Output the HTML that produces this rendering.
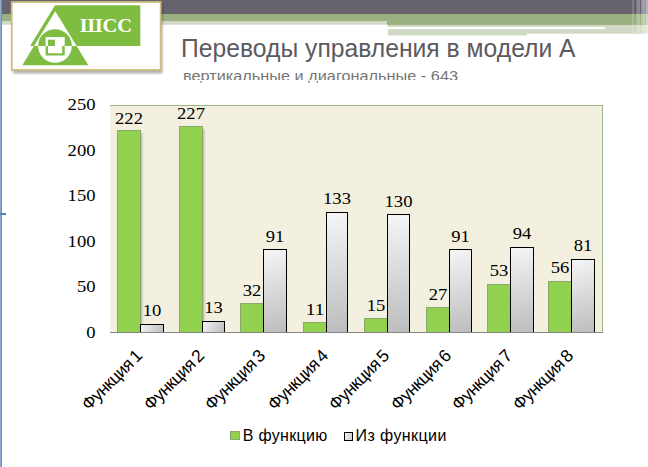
<!DOCTYPE html>
<html><head><meta charset="utf-8"><style>
html,body{margin:0;padding:0;background:#fff;width:648px;height:467px;overflow:hidden}
svg{display:block}
text{font-family:"Liberation Sans",sans-serif}
.sf{font-family:"Liberation Serif",serif}
</style></head><body>
<svg width="648" height="467" viewBox="0 0 648 467">
<defs>
<linearGradient id="wg" x1="0" y1="0" x2="0.35" y2="1">
<stop offset="0" stop-color="#f6f6f6"/><stop offset="1" stop-color="#c4c4c4"/>
</linearGradient>
<linearGradient id="wgs" x1="0" y1="0" x2="1" y2="0.3">
<stop offset="0" stop-color="#f4f4f4"/><stop offset="1" stop-color="#cfcfcf"/>
</linearGradient>
<filter id="sh" x="-20%" y="-5%" width="150%" height="115%"><feGaussianBlur stdDeviation="1.2"/></filter>
<linearGradient id="lb" x1="0" y1="0" x2="1" y2="0">
<stop offset="0" stop-color="#9fb7da"/><stop offset="1" stop-color="#5b7fb5"/>
</linearGradient>
</defs>

<rect x="0" y="0" width="2" height="467" fill="url(#lb)"/>
<rect x="0" y="213" width="6" height="2" fill="#5b7fb5"/>
<rect x="2" y="0" width="646" height="14" fill="#67636d"/>
<rect x="2" y="14" width="385" height="7" fill="#9bb081"/>
<rect x="2" y="21" width="385" height="3.7" fill="#cfd9c3"/>
<rect x="387" y="14" width="261" height="11" fill="#9bb081"/>
<rect x="388" y="25" width="139" height="10.4" fill="#cfd9c3"/>
<rect x="527" y="25" width="121" height="8.7" fill="#cfd9c3"/>
<rect x="388" y="27" width="217" height="2.1" fill="#ffffff"/>
<rect x="632.5" y="0" width="1" height="33" fill="#fff" opacity="0.35"/>
<rect x="636.5" y="0" width="3.5" height="33" fill="#fff" opacity="0.25"/>
<rect x="641" y="0" width="7" height="36" fill="#fff" opacity="0.3"/>
<rect x="643.5" y="0" width="1" height="36" fill="#fff" opacity="0.3"/>
<rect x="646" y="0" width="2" height="36" fill="#fff" opacity="0.3"/>
<rect x="13" y="4" width="149.5" height="69.5" fill="#000" opacity="0.3" filter="url(#sh)"/>
<rect x="11.7" y="2" width="149" height="68" fill="#fff" stroke="#cbbb7e" stroke-width="1.8"/>
<path fill="#7ebd42" d="M55 5.2 L140.3 5.2 L140.3 46 L76.6 46 L88.3 65.2 L22.3 65.2 L34.0 46 L30.1 46 Z"/>
<path fill="#fff" d="M55.3 11.3 L76.6 46 L34.0 46 Z"/>
<path fill="#7ebd42" d="M38.2 46 A16.8 16.8 0 0 1 71.8 46 Z"/>
<path fill="#fff" d="M38.2 46 A16.8 16.8 0 0 0 71.8 46 Z"/>
<rect x="45.6" y="37.1" width="19.1" height="8.9" fill="#fff"/>
<rect x="48" y="39.7" width="6.9" height="6.3" fill="#7ebd42"/>
<path fill="#7ebd42" fill-rule="evenodd" d="M45.6 46 L64.7 46 L64.7 55.6 L45.6 55.6 Z M48 46 L62.2 46 L62.2 53.2 L48 53.2 Z"/>
<text x="80" y="31.9" class="sf" font-size="19.5" font-weight="bold" fill="#fff" textLength="52" lengthAdjust="spacingAndGlyphs">ШСС</text>
<text x="181.1" y="56.8" font-size="25" fill="#5b5a5f" textLength="394.5" lengthAdjust="spacingAndGlyphs">Переводы управления в модели А</text>
<clipPath id="sc"><rect x="0" y="60" width="648" height="20.1"/></clipPath>
<text x="183" y="81.4" font-size="14" fill="#767676" clip-path="url(#sc)" textLength="275" lengthAdjust="spacingAndGlyphs">вертикальные и диагональные - 643</text>
<path d="M200.4 80.9h1.5v1.9h-1.5z M308.2 80.8h1.5v1.9h-1.5z M316.6 80.8h1.4v1.9h-1.4z" fill="#8a8a8a"/>
<rect x="110" y="105" width="493" height="228" fill="#f3f0df"/>
<rect x="110" y="105" width="493" height="1" fill="#9bb281"/>
<rect x="602" y="105" width="1" height="228" fill="#9bb281"/>
<rect x="119" y="133" width="23" height="199" fill="#5a5040" opacity="0.45" filter="url(#sh)"/>
<rect x="117.5" y="130.5" width="23" height="202" fill="#92d050" stroke="#8aa86a" stroke-width="1"/>
<rect x="140.5" y="324.5" width="23" height="8" fill="url(#wg0)" stroke="#000" stroke-width="1"/>
<text class="sf" x="129.00" y="123.70" font-size="16" text-anchor="middle" fill="#000" textLength="27.90" lengthAdjust="spacingAndGlyphs">222</text>
<text class="sf" x="152.00" y="315.90" font-size="16" text-anchor="middle" fill="#000" textLength="18.60" lengthAdjust="spacingAndGlyphs">10</text>
<rect x="181" y="129" width="23" height="203" fill="#5a5040" opacity="0.45" filter="url(#sh)"/>
<rect x="179.5" y="126.5" width="23" height="206" fill="#92d050" stroke="#8aa86a" stroke-width="1"/>
<rect x="202.5" y="321.5" width="22" height="11" fill="url(#wg1)" stroke="#000" stroke-width="1"/>
<text class="sf" x="191.00" y="118.70" font-size="16" text-anchor="middle" fill="#000" textLength="27.90" lengthAdjust="spacingAndGlyphs">227</text>
<text class="sf" x="213.50" y="312.70" font-size="16" text-anchor="middle" fill="#000" textLength="18.60" lengthAdjust="spacingAndGlyphs">13</text>
<rect x="242" y="306" width="23" height="26" fill="#5a5040" opacity="0.45" filter="url(#sh)"/>
<rect x="240.5" y="303.5" width="23" height="29" fill="#92d050" stroke="#8aa86a" stroke-width="1"/>
<rect x="263.5" y="249.5" width="23" height="83" fill="url(#wg2)" stroke="#000" stroke-width="1"/>
<text class="sf" x="252.00" y="296.10" font-size="16" text-anchor="middle" fill="#000" textLength="18.60" lengthAdjust="spacingAndGlyphs">32</text>
<text class="sf" x="275.00" y="242.00" font-size="16" text-anchor="middle" fill="#000" textLength="18.60" lengthAdjust="spacingAndGlyphs">91</text>
<rect x="305" y="325" width="23" height="7" fill="#5a5040" opacity="0.45" filter="url(#sh)"/>
<rect x="303.5" y="322.5" width="23" height="10" fill="#92d050" stroke="#8aa86a" stroke-width="1"/>
<rect x="326.5" y="212.5" width="21" height="120" fill="url(#wg3)" stroke="#000" stroke-width="1"/>
<text class="sf" x="315.00" y="315.10" font-size="16" text-anchor="middle" fill="#000" textLength="18.60" lengthAdjust="spacingAndGlyphs">11</text>
<text class="sf" x="337.00" y="203.90" font-size="16" text-anchor="middle" fill="#000" textLength="27.90" lengthAdjust="spacingAndGlyphs">133</text>
<rect x="366" y="321" width="23" height="11" fill="#5a5040" opacity="0.45" filter="url(#sh)"/>
<rect x="364.5" y="318.5" width="23" height="14" fill="#92d050" stroke="#8aa86a" stroke-width="1"/>
<rect x="387.5" y="214.5" width="22" height="118" fill="url(#wg4)" stroke="#000" stroke-width="1"/>
<text class="sf" x="376.00" y="310.60" font-size="16" text-anchor="middle" fill="#000" textLength="18.60" lengthAdjust="spacingAndGlyphs">15</text>
<text class="sf" x="398.50" y="206.80" font-size="16" text-anchor="middle" fill="#000" textLength="27.90" lengthAdjust="spacingAndGlyphs">130</text>
<rect x="428" y="310" width="23" height="22" fill="#5a5040" opacity="0.45" filter="url(#sh)"/>
<rect x="426.5" y="307.5" width="23" height="25" fill="#92d050" stroke="#8aa86a" stroke-width="1"/>
<rect x="449.5" y="249.5" width="22" height="83" fill="url(#wg5)" stroke="#000" stroke-width="1"/>
<text class="sf" x="438.00" y="299.70" font-size="16" text-anchor="middle" fill="#000" textLength="18.60" lengthAdjust="spacingAndGlyphs">27</text>
<text class="sf" x="460.50" y="242.00" font-size="16" text-anchor="middle" fill="#000" textLength="18.60" lengthAdjust="spacingAndGlyphs">91</text>
<rect x="489" y="287" width="23" height="45" fill="#5a5040" opacity="0.45" filter="url(#sh)"/>
<rect x="487.5" y="284.5" width="23" height="48" fill="#92d050" stroke="#8aa86a" stroke-width="1"/>
<rect x="510.5" y="247.5" width="23" height="85" fill="url(#wg6)" stroke="#000" stroke-width="1"/>
<text class="sf" x="499.00" y="276.30" font-size="16" text-anchor="middle" fill="#000" textLength="18.60" lengthAdjust="spacingAndGlyphs">53</text>
<text class="sf" x="522.00" y="238.90" font-size="16" text-anchor="middle" fill="#000" textLength="18.60" lengthAdjust="spacingAndGlyphs">94</text>
<rect x="550" y="284" width="23" height="48" fill="#5a5040" opacity="0.45" filter="url(#sh)"/>
<rect x="548.5" y="281.5" width="23" height="51" fill="#92d050" stroke="#8aa86a" stroke-width="1"/>
<rect x="571.5" y="259.5" width="23" height="73" fill="url(#wg7)" stroke="#000" stroke-width="1"/>
<text class="sf" x="560.00" y="273.10" font-size="16" text-anchor="middle" fill="#000" textLength="18.60" lengthAdjust="spacingAndGlyphs">56</text>
<text class="sf" x="583.00" y="250.80" font-size="16" text-anchor="middle" fill="#000" textLength="18.60" lengthAdjust="spacingAndGlyphs">81</text>
<defs><linearGradient id="wg0" gradientUnits="userSpaceOnUse" x1="140" y1="324" x2="164" y2="332"><stop offset="0" stop-color="#f6f6f6"/><stop offset="1" stop-color="#bcbcbc"/></linearGradient><linearGradient id="wg1" gradientUnits="userSpaceOnUse" x1="202" y1="321" x2="225" y2="332"><stop offset="0" stop-color="#f6f6f6"/><stop offset="1" stop-color="#bcbcbc"/></linearGradient><linearGradient id="wg2" gradientUnits="userSpaceOnUse" x1="263" y1="249" x2="287" y2="332"><stop offset="0" stop-color="#f6f6f6"/><stop offset="1" stop-color="#bcbcbc"/></linearGradient><linearGradient id="wg3" gradientUnits="userSpaceOnUse" x1="326" y1="212" x2="348" y2="332"><stop offset="0" stop-color="#f6f6f6"/><stop offset="1" stop-color="#bcbcbc"/></linearGradient><linearGradient id="wg4" gradientUnits="userSpaceOnUse" x1="387" y1="214" x2="410" y2="332"><stop offset="0" stop-color="#f6f6f6"/><stop offset="1" stop-color="#bcbcbc"/></linearGradient><linearGradient id="wg5" gradientUnits="userSpaceOnUse" x1="449" y1="249" x2="472" y2="332"><stop offset="0" stop-color="#f6f6f6"/><stop offset="1" stop-color="#bcbcbc"/></linearGradient><linearGradient id="wg6" gradientUnits="userSpaceOnUse" x1="510" y1="247" x2="534" y2="332"><stop offset="0" stop-color="#f6f6f6"/><stop offset="1" stop-color="#bcbcbc"/></linearGradient><linearGradient id="wg7" gradientUnits="userSpaceOnUse" x1="571" y1="259" x2="595" y2="332"><stop offset="0" stop-color="#f6f6f6"/><stop offset="1" stop-color="#bcbcbc"/></linearGradient></defs>
<rect x="110" y="332" width="493" height="1" fill="#868686"/>
<text class="sf" x="95.5" y="337.50" font-size="16" text-anchor="end" fill="#000" textLength="9.30" lengthAdjust="spacingAndGlyphs">0</text>
<text class="sf" x="95.5" y="292.06" font-size="16" text-anchor="end" fill="#000" textLength="18.60" lengthAdjust="spacingAndGlyphs">50</text>
<text class="sf" x="95.5" y="246.62" font-size="16" text-anchor="end" fill="#000" textLength="27.90" lengthAdjust="spacingAndGlyphs">100</text>
<text class="sf" x="95.5" y="201.18" font-size="16" text-anchor="end" fill="#000" textLength="27.90" lengthAdjust="spacingAndGlyphs">150</text>
<text class="sf" x="95.5" y="155.74" font-size="16" text-anchor="end" fill="#000" textLength="27.90" lengthAdjust="spacingAndGlyphs">200</text>
<text class="sf" x="95.5" y="110.30" font-size="16" text-anchor="end" fill="#000" textLength="27.90" lengthAdjust="spacingAndGlyphs">250</text>
<text x="0" y="0" font-size="17.5" text-anchor="end" fill="#000" letter-spacing="-0.55" word-spacing="-1.6" transform="translate(143.10,357.1) rotate(-45)">Функция 1</text>
<text x="0" y="0" font-size="17.5" text-anchor="end" fill="#000" letter-spacing="-0.55" word-spacing="-1.6" transform="translate(205.10,357.1) rotate(-45)">Функция 2</text>
<text x="0" y="0" font-size="17.5" text-anchor="end" fill="#000" letter-spacing="-0.55" word-spacing="-1.6" transform="translate(266.10,357.1) rotate(-45)">Функция 3</text>
<text x="0" y="0" font-size="17.5" text-anchor="end" fill="#000" letter-spacing="-0.55" word-spacing="-1.6" transform="translate(329.10,357.1) rotate(-45)">Функция 4</text>
<text x="0" y="0" font-size="17.5" text-anchor="end" fill="#000" letter-spacing="-0.55" word-spacing="-1.6" transform="translate(390.10,357.1) rotate(-45)">Функция 5</text>
<text x="0" y="0" font-size="17.5" text-anchor="end" fill="#000" letter-spacing="-0.55" word-spacing="-1.6" transform="translate(452.10,357.1) rotate(-45)">Функция 6</text>
<text x="0" y="0" font-size="17.5" text-anchor="end" fill="#000" letter-spacing="-0.55" word-spacing="-1.6" transform="translate(513.10,357.1) rotate(-45)">Функция 7</text>
<text x="0" y="0" font-size="17.5" text-anchor="end" fill="#000" letter-spacing="-0.55" word-spacing="-1.6" transform="translate(574.10,357.1) rotate(-45)">Функция 8</text>
<rect x="230.5" y="431.5" width="9" height="8" fill="#92d050" stroke="#8aa86a" stroke-width="1"/>
<text x="242.8" y="440.7" font-size="16" fill="#000" letter-spacing="0.3">В функцию</text>
<rect x="344.5" y="432.5" width="8" height="8" fill="url(#wgs)" stroke="#000" stroke-width="1"/>
<text x="355.6" y="440.7" font-size="16" fill="#000" letter-spacing="0.4">Из функции</text>
</svg></body></html>
